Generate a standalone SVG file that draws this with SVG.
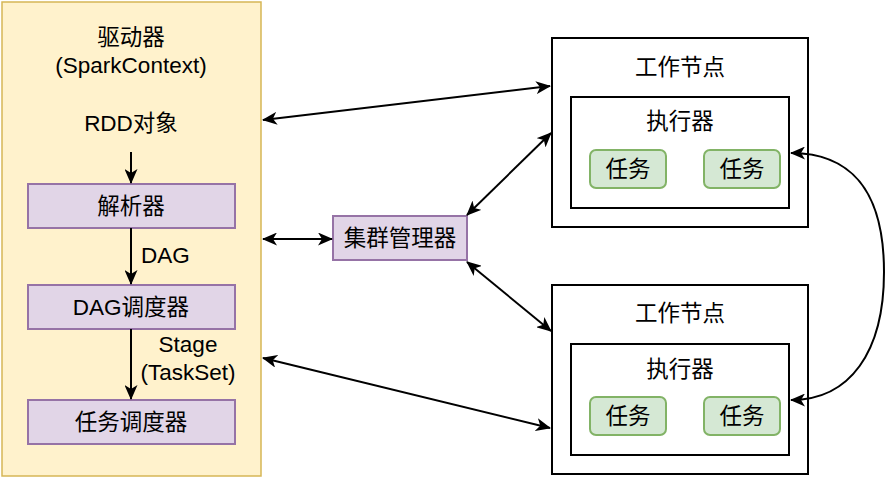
<svg xmlns="http://www.w3.org/2000/svg" width="886" height="477" viewBox="0 0 886 477">
<style>
text{font-family:"Liberation Sans","Noto Sans CJK SC",sans-serif;font-size:22.5px;fill:#000;text-anchor:middle}
.purple{fill:#e1d5e7;stroke:#9673a6;stroke-width:2}
.green{fill:#d5e8d4;stroke:#82b366;stroke-width:2}
.box{fill:#fff;stroke:#000;stroke-width:2}
.edge{fill:none;stroke:#000;stroke-width:2}
</style>
<defs>
<marker id="arr" viewBox="0 0 15 13" refX="14" refY="6.5" markerWidth="15" markerHeight="13" markerUnits="userSpaceOnUse" orient="auto-start-reverse">
<path d="M0,0 L15,6.5 L0,13 L4,6.5 Z" fill="#000"/>
</marker>
</defs>
<g id="driver">
<rect x="2" y="2" width="259" height="474" fill="#fff2cc" stroke="#d6b656" stroke-width="1.5"/>
<text x="131" y="45">驱动器</text>
<text x="131" y="73">(SparkContext)</text>
<text x="131" y="131">RDD对象</text>
</g>
<g id="parser">
<rect class="purple" x="28" y="184" width="207" height="44"/>
<text x="131" y="214">解析器</text>
</g>
<g id="dagscheduler">
<rect class="purple" x="28" y="285" width="207" height="44"/>
<text x="131" y="315">DAG调度器</text>
</g>
<g id="taskscheduler">
<rect class="purple" x="28" y="400" width="207" height="44"/>
<text x="131" y="430">任务调度器</text>
</g>
<g id="clustermanager">
<rect class="purple" x="333" y="216" width="134" height="44"/>
<text x="400" y="246">集群管理器</text>
</g>
<g id="worker1">
<rect class="box" x="552" y="38" width="256" height="189"/>
<text x="680" y="75">工作节点</text>
<rect class="box" x="571" y="97" width="218" height="111"/>
<text x="680" y="129">执行器</text>
<rect class="green" x="590" y="150" width="76" height="38" rx="6"/>
<text x="628" y="177">任务</text>
<rect class="green" x="704" y="150" width="76" height="38" rx="6"/>
<text x="742" y="177">任务</text>
</g>
<g id="worker2">
<rect class="box" x="552" y="285" width="256" height="189"/>
<text x="680" y="321">工作节点</text>
<rect class="box" x="571" y="344" width="218" height="111"/>
<text x="680" y="377">执行器</text>
<rect class="green" x="590" y="397" width="76" height="38" rx="6"/>
<text x="628" y="424">任务</text>
<rect class="green" x="704" y="397" width="76" height="38" rx="6"/>
<text x="742" y="424">任务</text>
</g>
<g id="connectors">
<line class="edge" x1="131" y1="152" x2="131" y2="183" marker-end="url(#arr)"/>
<line class="edge" x1="131" y1="228" x2="131" y2="284" marker-end="url(#arr)"/>
<text x="141" y="263" style="text-anchor:start">DAG</text>
<line class="edge" x1="131" y1="329" x2="131" y2="399" marker-end="url(#arr)"/>
<text x="188" y="352">Stage</text>
<text x="188" y="380">(TaskSet)</text>
<line class="edge" x1="263" y1="120" x2="550" y2="86" marker-start="url(#arr)" marker-end="url(#arr)"/>
<line class="edge" x1="263" y1="239" x2="332" y2="239" marker-start="url(#arr)" marker-end="url(#arr)"/>
<line class="edge" x1="263" y1="358" x2="550" y2="428" marker-start="url(#arr)" marker-end="url(#arr)"/>
<line class="edge" x1="467" y1="215" x2="551" y2="133" marker-start="url(#arr)" marker-end="url(#arr)"/>
<line class="edge" x1="467" y1="262" x2="551" y2="331" marker-start="url(#arr)" marker-end="url(#arr)"/>
<path class="edge" d="M791,153 C850,153 884,190 884,272 C884,352 850,400 791,400" marker-start="url(#arr)" marker-end="url(#arr)"/>
</g>
</svg>
